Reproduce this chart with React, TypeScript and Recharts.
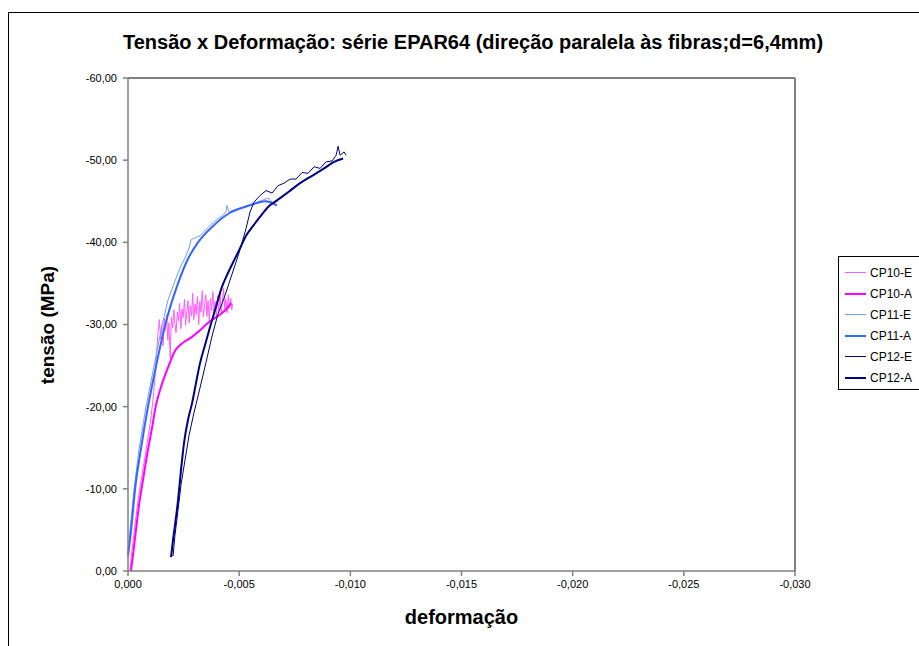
import { LineChart, Line, XAxis, YAxis, ReferenceLine, Label } from "recharts"

// strain (deformação) and stress (tensão, MPa)
const cp10EStrain = [-0.00009, -0.00018, -0.000315, -0.00045, -0.00063, -0.00081, -0.00099, -0.001125, -0.00122, -0.00128, -0.00132, -0.00135, -0.00141, -0.00147, -0.00152, -0.00158, -0.00163, -0.00169, -0.00174, -0.00179, -0.00184, -0.0019, -0.00195, -0.00201, -0.00206, -0.00211, -0.00216, -0.00222, -0.00227, -0.00232, -0.00238, -0.00243, -0.00248, -0.00254, -0.00259, -0.00264, -0.0027, -0.00275, -0.0028, -0.00286, -0.00291, -0.00296, -0.00302, -0.00307, -0.00312, -0.00318, -0.00323, -0.00328, -0.00334, -0.00339, -0.00344, -0.0035, -0.00355, -0.0036, -0.00366, -0.00371, -0.00376, -0.00382, -0.00387, -0.00392, -0.00398, -0.00403, -0.00408, -0.00414, -0.00419, -0.00424, -0.0043, -0.00435, -0.0044, -0.00446, -0.00451, -0.00456, -0.00462, -0.00467, -0.0047]
const cp10EStress = [-0.1, -2.6, -5.6, -8.6, -11.7, -14.7, -17.8, -20.8, -23.8, -26.2, -27.8, -29.0, -30.6, -28.2, -29.9, -27.4, -30.8, -29.3, -31.2, -28.1, -30.2, -25.9, -30.9, -29.6, -31.8, -30.1, -29.0, -31.5, -30.4, -32.6, -29.5, -31.9, -30.8, -33.1, -29.9, -31.4, -32.9, -30.2, -32.3, -31.0, -33.8, -30.6, -32.5, -31.2, -33.4, -30.0, -32.8, -31.5, -34.1, -30.9, -32.2, -33.6, -31.0, -32.9, -30.4, -33.2, -31.7, -34.0, -31.2, -32.8, -30.9, -33.5, -31.6, -33.9, -31.3, -32.6, -34.4, -31.9, -33.1, -31.4, -33.6, -32.0, -33.2, -31.8, -32.5]

const cp10AStrain = [-0.000135, -0.000225, -0.00036, -0.000495, -0.000675, -0.000855, -0.00108, -0.00126, -0.00144, -0.001665, -0.00189, -0.002115, -0.00243, -0.00288, -0.00324, -0.0036, -0.003915, -0.00423, -0.0045, -0.004635]
const cp10AStress = [0, -1.95, -5.0, -8.0, -11.1, -14.1, -17.4, -20.2, -22.0, -23.8, -25.4, -26.8, -27.7, -28.5, -29.3, -30.2, -30.8, -31.4, -32.1, -32.6]

const cp11EStrain = [0, -0.00009, -0.00027, -0.00049, -0.00081, -0.00117, -0.00153, -0.0018, -0.00207, -0.00234, -0.002565, -0.002745, -0.002835, -0.00297, -0.00324, -0.00351, -0.00387, -0.00423, -0.00441, -0.004455, -0.004545, -0.00486, -0.005265, -0.005715, -0.00603, -0.0063, -0.00648, -0.006615]
const cp11EStress = [-2.2, -5.0, -9.9, -14.7, -20.0, -24.9, -29.9, -33.0, -35.0, -36.9, -38.1, -39.3, -40.3, -40.5, -40.8, -41.6, -42.5, -43.2, -43.7, -44.5, -43.7, -44.0, -44.4, -44.8, -45.1, -45.4, -44.9, -44.5]

const cp11AStrain = [0, -0.00014, -0.00032, -0.00059, -0.0009, -0.00126, -0.00167, -0.00225, -0.0027, -0.00315, -0.00383, -0.00459, -0.00549, -0.00617, -0.0067]
const cp11AStress = [-1.8, -5.0, -10.0, -15.0, -20.0, -24.9, -29.9, -35.0, -38.0, -40.0, -42.0, -43.6, -44.5, -45.0, -44.5]

const cp12EStrain = [-0.002025, -0.002115, -0.00225, -0.002385, -0.002565, -0.002745, -0.00297, -0.00324, -0.00351, -0.00378, -0.00405, -0.00432, -0.00459, -0.00486, -0.005085, -0.00531, -0.00549, -0.00567, -0.00594, -0.00621, -0.00648, -0.00675, -0.00702, -0.00729, -0.00756, -0.00783, -0.0081, -0.00837, -0.00864, -0.00891, -0.00918, -0.00936, -0.00945, -0.00954, -0.00972, -0.00981]
const cp12EStress = [-1.8, -4.4, -7.4, -10.5, -13.5, -16.5, -19.3, -22.3, -25.4, -28.6, -31.3, -33.2, -35.4, -37.6, -39.5, -41.7, -43.7, -44.9, -45.7, -46.3, -46.0, -46.9, -47.2, -47.7, -47.7, -48.5, -48.4, -49.2, -49.0, -49.8, -49.9, -50.6, -51.7, -50.6, -51.0, -50.6]

const cp12AStrain = [-0.001935, -0.002025, -0.002115, -0.00225, -0.002385, -0.00252, -0.0027, -0.00288, -0.00306, -0.00324, -0.003465, -0.00369, -0.00396, -0.00423, -0.0045, -0.00477, -0.00504, -0.00531, -0.005625, -0.00594, -0.0063, -0.0067, -0.0072, -0.00774, -0.00828, -0.00882, -0.00927, -0.009675]
const cp12AStress = [-1.7, -3.8, -5.6, -8.6, -12.3, -15.6, -18.4, -20.4, -22.9, -25.3, -27.5, -29.7, -32.2, -34.6, -36.3, -37.8, -39.3, -40.8, -42.0, -43.1, -44.3, -45.1, -46.1, -47.2, -48.1, -49.0, -49.8, -50.2]

const xTicks = [0, -0.005, -0.01, -0.015, -0.02, -0.025, -0.03]
const yTicks = [0, -10, -20, -30, -40, -50, -60]

const zip = (xs: number[], ys: number[]) => xs.map((x, i) => ({ x, y: ys[i] }))

const series = [
  { name: "CP10-E", data: zip(cp10EStrain, cp10EStress), color: "#FF5CFF", width: 1, curve: "linear" },
  { name: "CP10-A", data: zip(cp10AStrain, cp10AStress), color: "#FF00FF", width: 2, curve: "monotone" },
  { name: "CP11-E", data: zip(cp11EStrain, cp11EStress), color: "#6E9BFF", width: 1, curve: "linear" },
  { name: "CP11-A", data: zip(cp11AStrain, cp11AStress), color: "#3366FF", width: 2, curve: "monotone" },
  { name: "CP12-E", data: zip(cp12EStrain, cp12EStress), color: "#000080", width: 1, curve: "linear" },
  { name: "CP12-A", data: zip(cp12AStrain, cp12AStress), color: "#000080", width: 2, curve: "monotone" },
]

const font = "'Liberation Sans', Arial, sans-serif"
const fmt = (v: number, d: number) => v.toFixed(d).replace(".", ",")

export default function App() {
  return (
    <div style={{ position: "fixed", left: 0, top: 0, width: 919, height: 646, overflow: "hidden", background: "#fff", fontFamily: font }}>
      <div style={{ position: "absolute", left: 8, top: 12, width: 1000, height: 1000, border: "1px solid #000" }} />
      <div style={{ position: "absolute", left: 0, width: 946, top: 30, textAlign: "center", fontWeight: "bold", fontSize: 20, lineHeight: "24px" }}>
        Tensão x Deformação: série EPAR64 (direção paralela às fibras;d=6,4mm)
      </div>
      <div style={{ position: "absolute", left: 0, top: 0 }}>
        <LineChart width={919} height={646} margin={{ top: 78, right: 124, left: 0, bottom: 0 }}>
          <XAxis
            dataKey="x"
            type="number"
            domain={[-0.03, 0]}
            reversed
            ticks={xTicks}
            tickFormatter={(v: number) => fmt(v, 3)}
            height={75}
            stroke="#808080"
            strokeWidth={1.5}
            tickSize={5}
            tickMargin={4}
            tick={{ fill: "#000", fontSize: 11, fontFamily: font }}
          >
            <Label value="deformação" position="insideBottom" offset={22} style={{ fontWeight: "bold", fontSize: 20, fill: "#000", fontFamily: font }} />
          </XAxis>
          <YAxis
            dataKey="y"
            type="number"
            domain={[-60, 0]}
            reversed
            ticks={yTicks}
            tickFormatter={(v: number) => fmt(v, 2)}
            width={128}
            stroke="#808080"
            strokeWidth={1.5}
            tickSize={5}
            tickMargin={6}
            tick={{ fill: "#000", fontSize: 11, fontFamily: font }}
          >
            <Label
              content={() => (
                <text x={47} y={325} transform="rotate(-90 47 325)" textAnchor="middle" dominantBaseline="central" style={{ fontWeight: "bold", fontSize: 19, fill: "#000", fontFamily: font }}>
                  tensão (MPa)
                </text>
              )}
            />
          </YAxis>
          <ReferenceLine y={-60} stroke="#000" strokeWidth={1} />
          <ReferenceLine x={-0.03} stroke="#808080" strokeWidth={2} />
          {series.map((s) => (
            <Line
              key={s.name}
              data={s.data}
              dataKey="y"
              name={s.name}
              type={s.curve as "linear" | "monotone"}
              stroke={s.color}
              strokeWidth={s.width}
              dot={false}
              isAnimationActive={false}
            />
          ))}
        </LineChart>
      </div>
      <div style={{ position: "absolute", left: 838, top: 256, width: 120, height: 132, border: "1px solid #000", background: "#fff" }}>
        {series.map((s) => (
          <div key={s.name} style={{ height: 21, marginTop: s.name === "CP10-E" ? 5 : 0, display: "flex", alignItems: "center", fontSize: 12, color: "#000", paddingLeft: 6 }}>
            <div style={{ width: 21, height: s.width, background: s.color, marginRight: 4 }} />
            {s.name}
          </div>
        ))}
      </div>
    </div>
  )
}
